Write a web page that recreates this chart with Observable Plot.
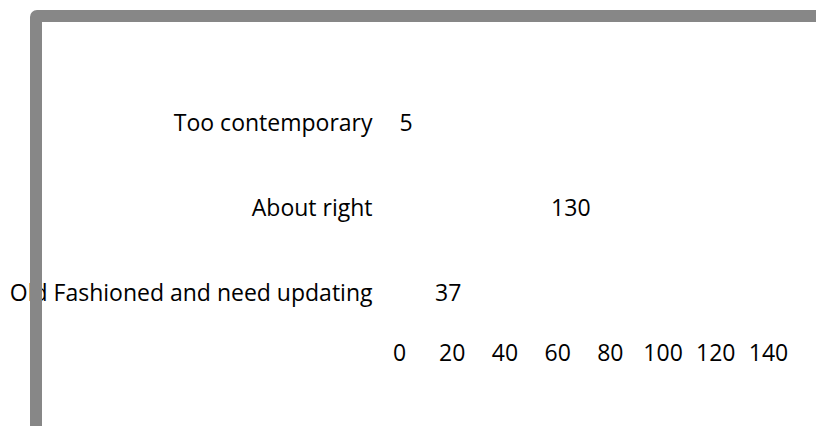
<!DOCTYPE html>
<html><head><meta charset="utf-8">
<script src="https://cdn.jsdelivr.net/npm/d3@7"></script>
<script src="https://cdn.jsdelivr.net/npm/@observablehq/plot@0.6"></script>
<style>
html,body{margin:0;padding:0;background:#fff;overflow:hidden;}
#wrap{position:relative;width:816px;height:426px;overflow:hidden;background:#fff;}
#frame{position:absolute;left:30px;top:10px;width:900px;height:600px;border:12px solid #878787;border-radius:7px;box-sizing:border-box;pointer-events:none;z-index:2;}
#chart{position:absolute;left:0;top:0;z-index:1;}
</style></head><body>
<div id="wrap"><div id="chart"></div><div id="frame"></div></div>
<script>
const categories = ["Too contemporary", "About right", "Old Fashioned and need updating"];
const values = [5, 130, 37];
const xTicks = [0, 20, 40, 60, 80, 100, 120, 140];

const data = categories.map((c, i) => ({category: c, value: values[i]}));
const FONT = "'Open Sans', sans-serif";
const chart = Plot.plot({
  width: 816, height: 426,
  marginLeft: 399, marginRight: 48, marginTop: 80.5, marginBottom: 90.5,
  style: {fontFamily: FONT, fontSize: "23px", color: "#000", background: "transparent"},
  x: {domain: [0, 140], ticks: xTicks, tickSize: 0, tickPadding: 9, label: null},
  y: {domain: categories, padding: 0, tickSize: 0, tickPadding: 27, label: null},
  marks: [
    Plot.barX(data, {x: "value", y: "category", fill: "white", insetTop: 15, insetBottom: 15}),
    Plot.text(data, {x: d => d.value / 2, y: "category", text: d => String(d.value), fill: "black", fontSize: 23})
  ]
});
document.getElementById("chart").appendChild(chart);
</script>
</body></html>
